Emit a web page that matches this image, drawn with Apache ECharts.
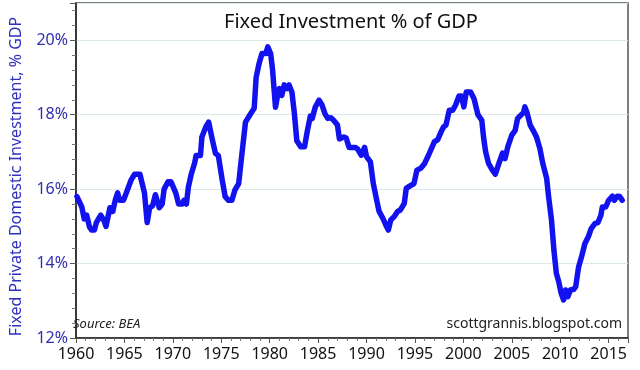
<!DOCTYPE html>
<html>
<head>
<meta charset="utf-8">
<script src="https://cdn.jsdelivr.net/npm/echarts@6/dist/echarts.min.js"></script>
<style>
html,body{margin:0;padding:0;background:#fff;}
#chart{width:640px;height:370px;}
</style>
</head>
<body>
<div id="chart"></div>
<script>
const title = 'Fixed Investment % of GDP';
const yAxisName = 'Fixed Private Domestic Investment, % GDP';
const sourceText = 'Source: BEA';
const creditText = 'scottgrannis.blogspot.com';

const years = [
1960.1,1960.6,1960.85,1961.1,1961.4,1961.6,1961.9,1962.1,1962.3,1962.55,1962.9,1963.1,1963.3,1963.5,1963.8,
1964.05,1964.3,1964.5,1964.9,1965.2,1965.7,1966.05,1966.6,1967.07,1967.35,1967.6,1967.9,1968.2,1968.4,1968.6,1968.9,
1969.1,1969.5,1969.8,1970.0,1970.3,1970.6,1971.0,1971.15,1971.4,1971.6,1971.9,1972.25,1972.4,1972.85,1973.0,1973.4,
1973.7,1974.05,1974.4,1974.7,1975.1,1975.4,1975.75,1976.1,1976.4,1976.8,1977.1,1977.5,1977.95,1978.4,1978.6,1978.9,
1979.2,1979.4,1979.6,1979.8,1980.1,1980.3,1980.6,1980.85,1981.0,1981.25,1981.5,1981.8,1982.0,1982.3,1982.55,1982.8,
1983.2,1983.6,1983.9,1984.2,1984.4,1984.7,1985.1,1985.4,1985.7,1986.0,1986.3,1986.6,1987.0,1987.2,1987.65,1987.9,
1988.2,1988.5,1988.85,1989.1,1989.45,1989.8,1990.0,1990.4,1990.7,1991.05,1991.3,1991.7,1992.0,1992.25,1992.5,1992.85,
1993.2,1993.5,1993.9,1994.1,1994.45,1994.9,1995.2,1995.6,1996.0,1996.4,1997.0,1997.35,1997.7,1997.95,1998.2,1998.55,
1998.9,1999.2,1999.55,1999.8,2000.05,2000.3,2000.75,2001.1,2001.5,2001.9,2002.1,2002.3,2002.6,2003.0,2003.3,2003.6,
2004.05,2004.3,2004.6,2005.0,2005.35,2005.6,2005.95,2006.2,2006.35,2006.6,2006.9,2007.2,2007.55,2007.9,2008.2,2008.6,
2008.8,2009.1,2009.35,2009.6,2009.85,2010.1,2010.35,2010.55,2010.8,2011.05,2011.4,2011.6,2011.9,2012.2,2012.55,2012.9,
2013.2,2013.6,2013.9,2014.2,2014.35,2014.7,2015.0,2015.4,2015.6,2015.9,2016.15,2016.4
];
const investmentPct = [
15.8,15.52,15.2,15.3,14.98,14.9,14.9,15.1,15.05,15.3,15.15,15.0,15.0,15.5,15.4,
15.7,15.9,15.7,15.7,15.9,16.25,16.4,16.4,15.9,15.1,15.5,15.55,15.85,15.8,15.5,15.6,
16.0,16.2,16.2,16.2,15.9,15.6,15.6,15.7,15.6,16.05,16.4,16.7,16.9,16.9,17.4,17.67,
17.8,17.36,16.96,16.9,16.24,15.8,15.7,15.7,15.97,16.15,16.87,17.8,17.99,18.17,19.0,19.37,
19.64,19.69,19.64,19.82,19.64,19.2,18.2,18.57,18.7,18.52,18.8,18.7,18.8,18.6,18.03,17.3,
17.14,17.14,17.58,17.96,17.9,18.2,18.39,18.26,18.03,17.9,17.92,17.85,17.72,17.35,17.4,17.37,
17.12,17.12,17.12,17.07,16.91,17.12,16.87,16.73,16.15,15.7,15.4,15.21,15.03,14.9,15.17,15.26,
15.4,15.44,15.62,16.02,16.08,16.15,16.51,16.56,16.69,16.91,17.27,17.33,17.54,17.67,17.72,18.12,
18.12,18.26,18.5,18.5,18.21,18.61,18.61,18.43,18.0,17.85,17.36,17.0,16.69,16.51,16.4,16.64,
16.97,16.82,17.15,17.45,17.58,17.9,17.99,18.05,18.21,18.03,17.72,17.58,17.4,17.09,16.69,16.29,
15.8,15.17,14.36,13.74,13.51,13.2,13.02,13.29,13.11,13.29,13.31,13.38,13.91,14.18,14.54,14.72,
14.94,15.08,15.1,15.3,15.52,15.52,15.7,15.81,15.7,15.81,15.8,15.7
];
const xTickYears = [1960,1965,1970,1975,1980,1985,1990,1995,2000,2005,2010,2015];
const yTickValues = [12,14,16,18,20];

const FONT = '"Noto Sans", "DejaVu Sans", sans-serif';
const chart = echarts.init(document.getElementById('chart'), null, {renderer:'canvas'});
const seriesData = years.map((y,i)=>[y, investmentPct[i]]);

chart.setOption({
  animation:false,
  backgroundColor:'#fff',
  title:{
    text:title, left:346, top:7, textAlign:'center',
    textStyle:{fontFamily:FONT, fontSize:20, fontWeight:'normal', color:'#111'}
  },
  grid:{left:69, right:12, top:3, bottom:32, show:true, borderColor:'#555', borderWidth:1.5, backgroundColor:'transparent'},
  xAxis:{
    type:'value', min:1960, max:2017, interval:5,
    axisLine:{show:true, onZero:false, lineStyle:{color:'#222', width:1.5}},
    axisTick:{show:true, length:5, lineStyle:{color:'#555'}},
    minorTick:{show:true, splitNumber:5, length:3, lineStyle:{color:'#777'}},
    splitLine:{show:false},
    axisLabel:{
      margin:8, fontFamily:FONT, fontSize:16, color:'#111',
      formatter:v => xTickYears.includes(Math.round(v)) && Math.abs(v-Math.round(v))<1e-6 ? String(Math.round(v)) : ''
    }
  },
  yAxis:{
    type:'value', min:12, max:21, interval:2,
    name:yAxisName, nameLocation:'middle', nameGap:52,
    nameTextStyle:{fontFamily:FONT, fontSize:16, color:'#3030c0', padding:[0,12,0,0]},
    axisLine:{show:true, lineStyle:{color:'#222', width:1.5}},
    axisTick:{show:true, length:6, lineStyle:{color:'#555'}},
    minorTick:{show:true, splitNumber:5, length:4, lineStyle:{color:'#777'}},
    splitLine:{show:true, lineStyle:{color:'#dbe8ec', width:1.2}},
    axisLabel:{
      margin:8, fontFamily:FONT, fontSize:16, color:'#2f2fb0',
      formatter:v => yTickValues.includes(v) ? v + '%' : ''
    }
  },
  graphic:[
    {type:'text', left:73, top:318, style:{text:sourceText, font:'italic 13px '+FONT, fill:'#222'}},
    {type:'text', right:18, top:317, style:{text:creditText, font:'14px '+FONT, fill:'#222'}}
  ],
  series:[{
    type:'line', data:seriesData, showSymbol:false, smooth:false,
    lineStyle:{color:'#1212ee', width:5.5, join:'round', cap:'round'}
  }]
});
</script>
</body>
</html>
